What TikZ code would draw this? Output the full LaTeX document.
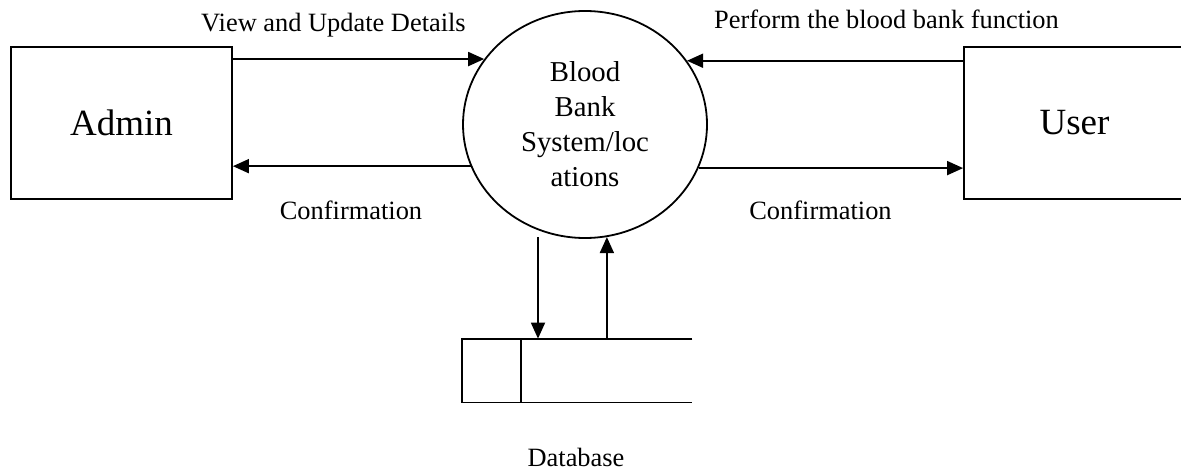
\documentclass[tikz,border=0pt]{standalone}
\usepackage{fontspec}
\setmainfont{Liberation Serif}
\usetikzlibrary{arrows.meta,shapes.geometric,calc}
\begin{document}
\begin{tikzpicture}[x=0.5pt,y=-0.5pt,
  ent/.style={draw, line width=0.9pt, minimum width=110.5pt, minimum height=76pt, inner sep=0pt, font=\fontsize{18.5}{22}\selectfont},
  proc/.style={draw, ellipse, line width=0.9pt, minimum width=122pt, minimum height=113.5pt, inner sep=0pt, align=center, font=\fontsize{14.4}{17.5}\selectfont},
  lbl/.style={font=\fontsize{13.2}{15}\selectfont, inner sep=0pt},
  flow/.style={line width=0.9pt, -{Triangle[length=8pt,width=7pt]}},
  plainline/.style={line width=0.9pt}]
\useasboundingbox (0,0) rectangle (1181,470);
\node[ent] (admin) at (121.5,123) {Admin};
\node[ent] (user) at (1074.5,123) {User};
\node[proc] (sys) at (585,124.5) {Blood\\Bank\\System/loc\\ations};
\node[inner sep=0pt, minimum width=115pt, minimum height=31.5pt] (db) at (577,370.5) {};
% data store
\draw[plainline] (db.north east) -- (db.north west) -- (db.south west) -- (db.south east);
\draw[plainline] ($(db.north west)+(59,0)$) -- ($(db.south west)+(59,0)$);
% flows
\draw[flow] (sys.147.3 -| admin.east) -- (sys.147.3);
\draw[flow] (sys.200.07) -- (sys.200.07 -| admin.east);
\draw[flow] (sys.32.1 -| user.west) -- (sys.32.1);
\draw[flow] (sys.339.93) -- (sys.339.93 -| user.west);
\coordinate (dstart) at (538,237);
\draw[flow] (dstart) -- (dstart |- db.north);
\draw[flow] (sys.281.15 |- db.north) -- (sys.281.15);
% labels
\node[lbl] (l1) at (333.5,25.5) {View and Update Details};
\node[lbl] (l2) at (351,210) {Confirmation};
\node[lbl] (l3) at (886.5,19) {Perform the blood bank function};
\node[lbl] (l4) at (820.5,210) {Confirmation};
\node[lbl] (l5) at (576,457) {Database};
\end{tikzpicture}
\end{document}
